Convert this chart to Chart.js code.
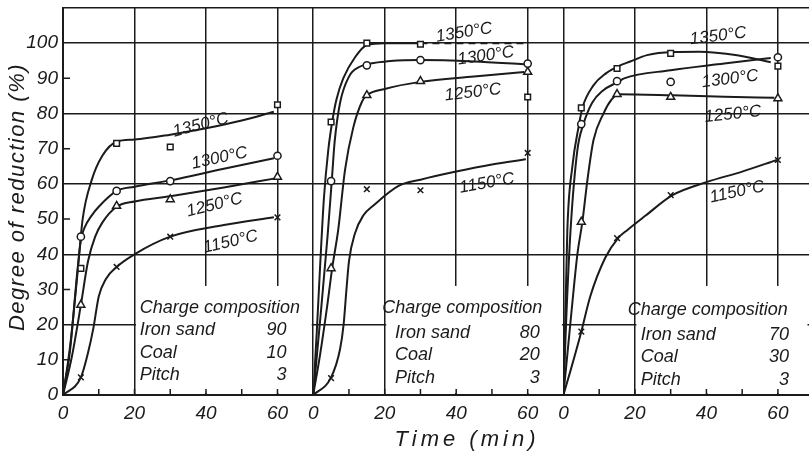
<!DOCTYPE html>
<html>
<head>
<meta charset="utf-8">
<title>Degree of reduction vs time</title>
<script src="https://cdn.jsdelivr.net/npm/chart.js@4.4.1/dist/chart.umd.min.js"></script>
<style>
	html, body { margin: 0; padding: 0; background: #fff; }
	#wrap { width: 809px; height: 452px; }
</style>
</head>
<body>
<div id="wrap"><canvas id="chart" width="809" height="452"></canvas></div>
<script>
/* global Chart */

// ----------------------------------------------------------------
// Data
// ----------------------------------------------------------------

var TEMPS        = [ '1350°C', '1300°C', '1250°C', '1150°C' ];
var SAMPLE_TIMES = [ 5, 15, 30, 60 ];           // min
var X_TICKS      = [ 0, 20, 40, 60 ];
var Y_TICKS      = [ 0, 10, 20, 30, 40, 50, 60, 70, 80, 90, 100 ];

// measured degree of reduction (%) at SAMPLE_TIMES
var SAND90_1350 = [ 36, 71.5, 70.5, 82.5 ];
var SAND90_1300 = [ 45, 58, 60.8, 68 ];
var SAND90_1250 = [ 25.6, 53.7, 55.6, 62 ];
var SAND90_1150 = [ 5, 36.4, 45, 50.5 ];

var SAND80_1350 = [ 77.6, 100, 99.7, 84.7 ];
var SAND80_1300 = [ 60.8, 93.7, 95.2, 94.2 ];
var SAND80_1250 = [ 36, 85.2, 89.2, 91.8 ];
var SAND80_1150 = [ 4.8, 58.5, 58.2, 68.8 ];

var SAND70_1350 = [ 81.6, 92.8, 97.1, 93.5 ];
var SAND70_1300 = [ 77, 89.2, 89, 96 ];
var SAND70_1250 = [ 49.2, 85.5, 84.7, 84.3 ];
var SAND70_1150 = [ 18, 44.6, 56.8, 66.8 ];

// faired curves, [time, %] pairs
var SAND90_CURVE_1350 = [ [0,0], [2,14], [4,34], [5.5,50], [8,61], [11,68], [15,72], [20,72.6], [30,74], [40,75.8], [50,78], [59,80.5] ];
var SAND90_CURVE_1300 = [ [0,0], [2,13], [4,35], [5,44], [6,47.5], [8,51], [10,53.5], [15,58], [20,59.2], [30,61], [45,64.3], [59,67.3] ];
var SAND90_CURVE_1250 = [ [0,0], [2.5,11], [5,25.6], [7,38], [9,45], [11,49], [15,53.5], [20,55], [30,56.5], [45,59], [59,61.5] ];
var SAND90_CURVE_1150 = [ [0,0], [5,5], [7,12], [8.5,19], [10,28], [12,33], [15,36.4], [20,40], [30,45], [45,48.3], [59,50.5] ];

var SAND80_CURVE_1350 = [ [0,0], [1,18], [2,38], [3,56], [4.2,69.5], [5.3,77.6], [6.5,84], [8.4,90], [11.7,96], [15,99.5], [20,100], [30,100], [60,100] ];
var SAND80_CURVE_1300 = [ [0,0], [2,22], [4,45], [5.2,61], [6,72], [7.5,83], [10,90.5], [13,93.3], [15,94], [30,95.2], [45,94.8], [59,94] ];
var SAND80_CURVE_1250 = [ [0,0], [2,12], [4,26], [5.3,36], [7,47], [8.9,64], [11.2,76], [13.7,83.5], [15,85.2], [20,87], [30,89], [45,90.5], [59,91.8] ];
var SAND80_CURVE_1150 = [ [0,0], [5,5], [7.5,13], [8.5,20], [9.3,30], [10,38], [11.7,46], [14,51], [17,54], [24,59.5], [30,61.2], [40,63.5], [50,65.5], [59.5,67] ];

var SAND70_CURVE_1350 = [ [0,0], [0.6,25], [1.1,47], [2.5,65], [4.2,76], [5.3,81.6], [8.4,88], [12,91.5], [15.4,93.5], [18.7,94.8], [23.4,96.6], [30.5,97.5], [38,97.6], [48.6,96.6], [58,94.6] ];
var SAND70_CURVE_1300 = [ [0,0], [0.8,22], [2,47], [3.9,69.6], [5.6,77], [8,83], [11,86.5], [15.3,89], [17,90], [30,92.3], [45,94.2], [58,95.8] ];
var SAND70_CURVE_1250 = [ [0,0], [2,21], [3.9,40], [5.3,49.2], [6.7,61], [8.4,72.4], [11.2,80], [13.5,84], [15.4,85.5], [30.5,85.2], [45,84.8], [59,84.5] ];
var SAND70_CURVE_1150 = [ [0,0], [2,7], [5,18], [7.5,28], [11.7,39], [15.3,44.6], [18,47], [23,51], [30.5,56.8], [40,60.5], [50,63.5], [59.7,66.8] ];

// charge composition of each panel
var COMPOSITION_ITEMS = [ 'Iron sand', 'Coal', 'Pitch' ];
var COMPOSITION_90    = [ 90, 10, 3 ];
var COMPOSITION_80    = [ 80, 20, 3 ];
var COMPOSITION_70    = [ 70, 30, 3 ];

( function () {
	'use strict';

	if ( typeof Chart === 'undefined' ) {
		return;
	}

	var INK    = '#1b1b1b';
	var CLEAR  = 'rgba(0,0,0,0)';
	var FAMILY = '"Liberation Sans", Arial, sans-serif';

	var MARKER = {
		'1350°C' : { style: 'rect',     r: 4 },
		'1300°C' : { style: 'circle',   r: 3.6 },
		'1250°C' : { style: 'triangle', r: 4.6 },
		'1150°C' : { style: 'crossRot', r: 4 },
	};

	var PANELS = [
		{ axis: 'x1', max: 70,   comp: COMPOSITION_90,
		  points: [ SAND90_1350, SAND90_1300, SAND90_1250, SAND90_1150 ],
		  curves: [ SAND90_CURVE_1350, SAND90_CURVE_1300, SAND90_CURVE_1250, SAND90_CURVE_1150 ] },
		{ axis: 'x2', max: 70,   comp: COMPOSITION_80,
		  points: [ SAND80_1350, SAND80_1300, SAND80_1250, SAND80_1150 ],
		  curves: [ SAND80_CURVE_1350, SAND80_CURVE_1300, SAND80_CURVE_1250, SAND80_CURVE_1150 ] },
		{ axis: 'x3', max: 68.7, comp: COMPOSITION_70,
		  points: [ SAND70_1350, SAND70_1300, SAND70_1250, SAND70_1150 ],
		  curves: [ SAND70_CURVE_1350, SAND70_CURVE_1300, SAND70_CURVE_1250, SAND70_CURVE_1150 ] },
	];

	// label placement (data coords of each panel) and rotation in degrees
	var TEMP_LABELS = [
		[ [ 38.5, 76.7, -14 ], [ 43.8, 67.3, -12 ], [ 42.4, 54.0, -14 ], [ 46.9, 43.5, -13 ] ],
		[ [ 42.2, 103,  -9  ], [ 48.3, 96.4, -8  ], [ 44.7, 86.0, -7  ], [ 48.6, 60.2, -10 ] ],
		[ [ 43.3, 102,  -7  ], [ 46.6, 89.8, -7  ], [ 47.4, 79.8, -6  ], [ 48.6, 57.7, -12 ] ],
	];

	var COMP_LAYOUT = [
		{ head: 21.5, left: 21.5, right: 62.5, rows: [ 24.7, 18.5, 11.9, 5.7 ] },
		{ head: 19.3, left: 22.9, right: 63.4, rows: [ 24.7, 17.6, 11.4, 4.8 ] },
		{ head: 18.0, left: 21.6, right: 63.1, rows: [ 24.1, 17.0, 10.8, 4.3 ] },
	];

	// ----------------------------------------------------------------
	// Helpers
	// ----------------------------------------------------------------

	function pairs( arr ) {
		return arr.map( function ( p ) { return { x: p[0], y: p[1] }; } );
	}

	function marks( ys ) {
		return ys.map( function ( v, i ) { return { x: SAMPLE_TIMES[ i ], y: v }; } );
	}

	function italic( size ) {
		return 'italic ' + size + 'px ' + FAMILY;
	}

	function xScale( max ) {
		return {
			type        : 'linear',
			position    : 'bottom',
			stack       : 'time',
			stackWeight : max,
			min         : 0,
			max         : max,
			afterFit    : function ( s ) {
				s.height = 57;
				s.paddingLeft = 0;
				s.paddingRight = 0;
			},
			border      : { display: true, color: INK, width: 2 },
			grid        : {
				drawTicks : false,
				lineWidth : 1.5,
				color     : function ( c ) {
					return c.tick && c.tick.value % 20 === 0 ? INK : CLEAR;
				},
			},
			ticks       : {
				stepSize      : 10,
				includeBounds : false,
				autoSkip      : false,
				maxRotation   : 0,
				padding       : 7,
				color         : INK,
				font          : { family: FAMILY, size: 19, style: 'italic' },
				callback      : function ( v ) { return X_TICKS.indexOf( v ) >= 0 ? v : ''; },
			},
		};
	}

	// ----------------------------------------------------------------
	// Datasets
	// ----------------------------------------------------------------

	var datasets = [];
	PANELS.forEach( function ( p ) {
		TEMPS.forEach( function ( t, i ) {
			datasets.push( {
				label                  : t + ' curve',
				xAxisID                : p.axis,
				data                   : pairs( p.curves[ i ] ),
				borderColor            : INK,
				borderWidth            : 2,
				pointRadius            : 0,
				cubicInterpolationMode : 'monotone',
				fill                   : false,
				order                  : 1,
				segment                : {
					borderDash: function ( ctx ) {
						return p.axis === 'x2' && i === 0 && ctx.p0.parsed.x >= 30 ? [ 7, 5 ] : undefined;
					},
				},
			} );
			datasets.push( {
				label                : t,
				xAxisID              : p.axis,
				data                 : marks( p.points[ i ] ),
				showLine             : false,
				pointStyle           : MARKER[ t ].style,
				pointRadius          : MARKER[ t ].r,
				pointBorderColor     : INK,
				pointBackgroundColor : '#fff',
				pointBorderWidth     : 1.5,
				order                : 0,
			} );
		} );
	} );

	// ----------------------------------------------------------------
	// Plugins: blanked composition boxes, minor ticks, lettering
	// ----------------------------------------------------------------

	var paper = {
		id: 'paper',
		beforeDatasetsDraw: function ( chart ) {
			var ctx  = chart.ctx;
			var y    = chart.scales.y;
			var area = chart.chartArea;

			ctx.save();
			// grid is left out behind the charge composition tables
			PANELS.forEach( function ( p ) {
				var xs = chart.scales[ p.axis ];
				var l = xs.getPixelForValue( 20 ) + 1.5;
				var r = Math.min( xs.getPixelForValue( p.max ) - 1.5, area.right );
				var t = y.getPixelForValue( 31 );
				var b = y.getPixelForValue( 0 ) - 2;
				ctx.fillStyle = '#fff';
				ctx.fillRect( l, t, r - l, b - t );
			} );

			// short minor ticks
			ctx.strokeStyle = INK;
			ctx.lineWidth = 1.5;
			ctx.beginPath();
			[ 10, 30, 50, 70, 90 ].forEach( function ( v ) {
				var py = y.getPixelForValue( v );
				ctx.moveTo( area.left, py );
				ctx.lineTo( area.left + 7, py );
			} );
			PANELS.forEach( function ( p ) {
				var xs = chart.scales[ p.axis ];
				[ 10, 20, 30, 40, 50, 60 ].forEach( function ( v ) {
					var px = xs.getPixelForValue( v );
					ctx.moveTo( px, area.bottom );
					ctx.lineTo( px, area.bottom - 6 );
				} );
			} );
			ctx.stroke();
			ctx.restore();
		},
		afterDraw: function ( chart ) {
			var ctx = chart.ctx;
			var y   = chart.scales.y;

			ctx.save();
			ctx.fillStyle = INK;

			// temperature labels
			ctx.font = italic( 17 );
			ctx.textAlign = 'center';
			ctx.textBaseline = 'middle';
			PANELS.forEach( function ( p, pi ) {
				var xs = chart.scales[ p.axis ];
				TEMP_LABELS[ pi ].forEach( function ( l, i ) {
					ctx.save();
					ctx.translate( xs.getPixelForValue( l[0] ), y.getPixelForValue( l[1] ) );
					ctx.rotate( l[2] * Math.PI / 180 );
					ctx.fillText( TEMPS[ i ], 0, 0 );
					ctx.restore();
				} );
			} );

			// charge composition tables
			ctx.font = italic( 18 );
			PANELS.forEach( function ( p, pi ) {
				var xs  = chart.scales[ p.axis ];
				var lay = COMP_LAYOUT[ pi ];
				ctx.textAlign = 'left';
				ctx.fillText( 'Charge composition', xs.getPixelForValue( lay.head ), y.getPixelForValue( lay.rows[0] ) );
				COMPOSITION_ITEMS.forEach( function ( name, i ) {
					var py = y.getPixelForValue( lay.rows[ i + 1 ] );
					ctx.textAlign = 'left';
					ctx.fillText( name, xs.getPixelForValue( lay.left ), py );
					ctx.textAlign = 'right';
					ctx.fillText( String( p.comp[ i ] ), xs.getPixelForValue( lay.right ), py );
				} );
			} );

			// axis titles
			ctx.font = italic( 22 );
			ctx.textAlign = 'center';
			ctx.letterSpacing = '4px';
			ctx.fillText( 'Time (min)', 467, 440 );

			ctx.letterSpacing = '1.5px';
			ctx.translate( 18, 197 );
			ctx.rotate( -Math.PI / 2 );
			ctx.fillText( 'Degree of reduction (%)', 0, 0 );
			ctx.restore();
		},
	};

	new Chart( document.getElementById( 'chart' ), {
		type: 'line',
		data: { datasets: datasets },
		options: {
			responsive : false,
			animation  : false,
			layout     : { autoPadding: false, padding: { top: 8, left: 0, right: 0, bottom: 0 } },
			plugins    : { legend: { display: false }, tooltip: { enabled: false } },
			scales     : {
				x1: xScale( PANELS[0].max ),
				x2: xScale( PANELS[1].max ),
				x3: xScale( PANELS[2].max ),
				y : {
					type     : 'linear',
					min      : 0,
					max      : 110,
					afterFit : function ( s ) {
						s.width = 63;
						s.paddingTop = 0;
						s.paddingBottom = 0;
					},
					border   : { display: true, color: INK, width: 2 },
					grid     : {
						drawTicks : false,
						lineWidth : 1.5,
						color     : function ( c ) {
							var v = c.tick ? c.tick.value : -1;
							return v % 20 === 0 || v === 110 ? INK : CLEAR;
						},
					},
					ticks    : {
						stepSize : 10,
						padding  : 5,
						color    : INK,
						font     : { family: FAMILY, size: 19, style: 'italic' },
						callback : function ( v ) { return Y_TICKS.indexOf( v ) >= 0 ? v : ''; },
					},
				},
			},
		},
		plugins: [ paper ],
	} );
}() );
</script>
</body>
</html>
